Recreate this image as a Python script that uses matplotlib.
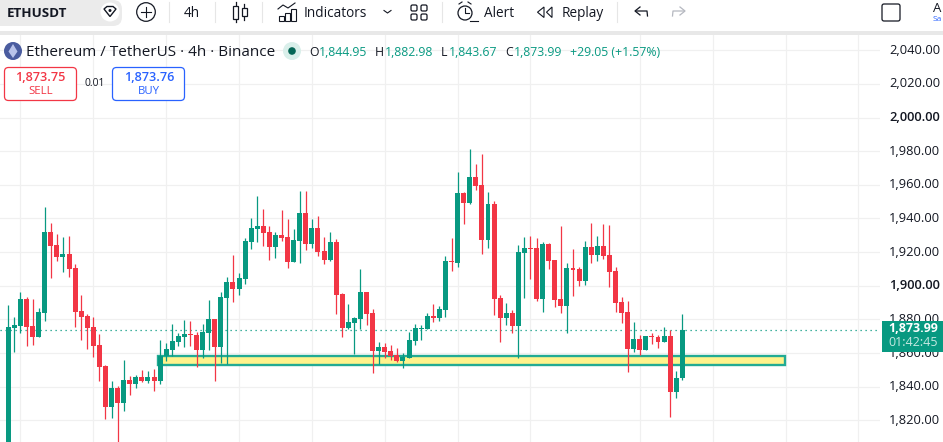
import matplotlib
matplotlib.use("Agg")
import matplotlib.pyplot as plt
from matplotlib.patches import Rectangle, FancyBboxPatch, Circle, Polygon
from matplotlib.transforms import ScaledTranslation

plt.rcParams['font.family'] = ['Open Sans', 'DejaVu Sans']

# candles, oldest first
opens = [1800, 1874.8, 1876.0, 1892.1, 1876.0, 1869.5, 1883.8, 1931.9, 1924.2, 1917.1,
         1918.8, 1910.5, 1885, 1882, 1875.4, 1864.7, 1852.3, 1827.9, 1839.2, 1830.2,
         1843.9, 1841.6, 1845.7, 1843.3, 1845.7, 1843.3, 1858.2, 1861.8, 1866.5, 1869.5,
         1871.3, 1870.7, 1861.8, 1871.9, 1880.2, 1863.5, 1892.7, 1902.2, 1898.1, 1904,
         1926, 1933.8, 1935.5, 1932, 1923.1, 1930.2, 1929, 1914.1, 1926.6, 1943.3,
         1924.8, 1934.4, 1920.7, 1915.3, 1926, 1895.1, 1874.9, 1877.9, 1880.2, 1896.3,
         1883.8, 1861.2, 1863.6, 1861.2, 1858.8, 1855.3, 1857, 1867.2, 1874.3, 1874.3,
         1882, 1880.8, 1885.6, 1914.7, 1913.6, 1955.2, 1949.2, 1964.7, 1959.9, 1927.2,
         1948.6, 1892.8, 1880.9, 1883.8, 1876.1, 1919.5, 1922.5, 1922.5, 1892.2, 1924.9,
         1915.3, 1892.2, 1888, 1910.6, 1910, 1902.9, 1923.1, 1918.3, 1923.7, 1918.3,
         1908.8, 1890.4, 1884.4, 1862.4, 1868.4, 1861.8, 1870.2, 1869.6, 1866.6, 1870.2,
         1836.9, 1844.95]
closes = [1875.4, 1876.6, 1892.1, 1875.4, 1869.5, 1884.4, 1931.9, 1923.6, 1917.1, 1918.8,
          1909.9, 1884.4, 1881.4, 1874.8, 1864.1, 1851.7, 1827.9, 1839.2, 1830.2, 1843.9,
          1841.6, 1845.7, 1843.3, 1845.7, 1843.3, 1858.2, 1862.4, 1867.1, 1870.1, 1871.3,
          1870.7, 1861.8, 1872.5, 1880.2, 1863.5, 1893.3, 1902.2, 1898.1, 1904.6, 1926.6,
          1934.4, 1935.5, 1931.4, 1923.1, 1930.2, 1928.4, 1914.1, 1927.2, 1943.3, 1924.8,
          1934.4, 1920.1, 1915.3, 1926, 1894.5, 1874.9, 1878.5, 1880.8, 1896.3, 1883.2,
          1861.2, 1863.6, 1860.6, 1858.2, 1855.3, 1857.6, 1867.8, 1874.9, 1874.9, 1882,
          1880.8, 1886.2, 1914.7, 1914.2, 1955.2, 1949.2, 1964.7, 1959.3, 1927.2, 1948.6,
          1892.2, 1880.9, 1883.8, 1876.1, 1920.1, 1922.5, 1921.9, 1892.2, 1924.9, 1914.7,
          1891.6, 1888, 1910.6, 1909.4, 1902.9, 1923.1, 1918.3, 1923.7, 1917.7, 1908.2,
          1889.8, 1883.8, 1862.4, 1868.4, 1861.8, 1870.2, 1869.6, 1866.6, 1870.2, 1836.9,
          1845.2, 1873.99]
highs = [1888.5, 1881.4, 1896.2, 1893.3, 1892.1, 1886.7, 1946.8, 1937.3, 1930.7, 1929,
         1929.5, 1912.9, 1894.5, 1883.2, 1881.4, 1871.3, 1852.8, 1843.3, 1840.4, 1855.8,
         1846.3, 1846.9, 1849.9, 1849.3, 1850.5, 1867.7, 1865.9, 1877.2, 1871.9, 1879.6,
         1879, 1872.5, 1877.2, 1891.5, 1880.2, 1896.2, 1905.2, 1918.3, 1907.6, 1928.4,
         1940.3, 1953.4, 1945.7, 1935.5, 1932, 1945.1, 1939.7, 1933.8, 1956.4, 1956.4,
         1939.7, 1941.5, 1929, 1932, 1927.8, 1895.7, 1889.2, 1881.4, 1910, 1896.3,
         1886.2, 1866.6, 1866, 1864.8, 1863, 1860, 1872.5, 1877.3, 1876.7, 1883.8,
         1889.2, 1888, 1917.7, 1928.4, 1967.7, 1955.8, 1981.3, 1972.4, 1978.4, 1955.8,
         1950.4, 1894.5, 1889.8, 1885.6, 1924.3, 1929, 1929.6, 1928.4, 1926, 1925.5,
         1915.3, 1935.6, 1913.6, 1921.9, 1911.2, 1926.6, 1937.3, 1929.6, 1936.8, 1936.2,
         1911.2, 1893.3, 1890.9, 1878.5, 1870.8, 1870.2, 1871.9, 1870.8, 1875.5, 1873.8,
         1849.4, 1882.98]
lows = [1795, 1860.6, 1871.9, 1864.1, 1864.7, 1869.5, 1879.0, 1904.6, 1914.7, 1908.1,
        1905.2, 1875.4, 1867.7, 1862.4, 1857.6, 1843.3, 1820.7, 1821.3, 1805, 1825.5,
        1835, 1839.2, 1842.7, 1842.1, 1837.4, 1841.6, 1855.2, 1858.2, 1864.1, 1863.5,
        1864.1, 1851.7, 1857, 1861.8, 1843.3, 1854, 1853.5, 1890.4, 1894.5, 1901.1,
        1921.9, 1926, 1923.6, 1915.3, 1916.5, 1926.6, 1910.6, 1914.1, 1913.5, 1921.3,
        1922.5, 1917.7, 1913, 1914.7, 1883.2, 1869.5, 1874.3, 1859.4, 1874.1, 1876.7,
        1848.1, 1853.5, 1857.1, 1855.9, 1854.7, 1851.1, 1857, 1864.8, 1867.8, 1874.3,
        1878.5, 1879.1, 1881.4, 1908.8, 1911.2, 1936.8, 1948.6, 1957, 1918.9, 1922.5,
        1882.6, 1866.6, 1876.7, 1871.9, 1857.1, 1892.8, 1904, 1891, 1884.4, 1910,
        1887.4, 1883.8, 1871.9, 1893.9, 1899.9, 1900.5, 1913.6, 1914.7, 1915.9, 1899.3,
        1884.4, 1877.9, 1848.8, 1860.6, 1858.9, 1861.8, 1865.4, 1863, 1866.6, 1822,
        1833.3, 1843.67]

price_ticks = [1820, 1840, 1860, 1880, 1900, 1920, 1940, 1960, 1980, 2000, 2020, 2040]
bold_ticks = [1900, 2000]
time_grid = [2, 14, 26, 38, 50, 62, 74, 86, 104, 116, 128, 140]
zone_low, zone_high = 1852.9, 1858.3
zone_start, zone_end = 24.7, 127.9
last_price = 1873.99

GREEN = '#089981'
RED = '#f23645'
BLUE = '#2962ff'
INK = '#131722'
W, H = 943, 442


def draw_chart(fig):
    ax = fig.add_axes([0, 0, 880 / W, (H - 35) / H])
    ax.set_xlim(-1.367, 143.56)
    ax.set_ylim(1807.1, 2049.1)
    for spine in ax.spines.values():
        spine.set_visible(False)
    ax.set_axisbelow(True)
    ax.set_xticks(time_grid)
    ax.set_yticks(price_ticks)
    ax.set_yticklabels([f"{p:,.2f}" for p in price_ticks], fontsize=9.3, color=INK)
    ax.tick_params(axis='x', length=0, labelbottom=False)
    ax.tick_params(axis='y', length=0, left=False, right=False, labelleft=False,
                   labelright=True, pad=6.5)
    # labels sit a little above their gridlines
    nudge = ScaledTranslation(0, 1.5 / 100, fig.dpi_scale_trans)
    for tick, p in zip(ax.yaxis.get_major_ticks(), price_ticks):
        tick.label2.set_transform(tick.label2.get_transform() + nudge)
        if p in bold_ticks:
            tick.label2.set_fontweight('semibold')
    ax.grid(True, color='#f0f0f0', lw=0.9)

    ax.axhline(last_price, color=GREEN, lw=0.9, ls=(0, (1, 3)), zorder=1.5)
    ax.add_patch(Rectangle((zone_start, zone_low), zone_end - zone_start, zone_high - zone_low,
                           fc='#fff38c', ec='#22ab94', lw=1.7, zorder=2))

    idx = list(range(len(opens)))
    colors = [GREEN if c >= o else RED for o, c in zip(opens, closes)]
    ax.vlines(idx, lows, highs, colors=colors, lw=0.9, zorder=3)
    bottoms = [min(o, c) for o, c in zip(opens, closes)]
    heights = [abs(c - o) for o, c in zip(opens, closes)]
    ax.bar(idx, heights, bottom=bottoms, width=0.82, color=colors, lw=0, zorder=4)
    return ax


def draw_header(ov):
    # top toolbar
    ov.add_patch(FancyBboxPatch((-20, 0), 142, 26, boxstyle="round,pad=0,rounding_size=9",
                                fc='#ebebeb', ec='none'))
    ov.add_patch(Rectangle((0, 31), W, 4, fc='#e8e8e8', ec='none'))
    ov.text(7, 13.3, "ETHUSDT", fontsize=9.6, fontweight='bold', color=INK, va='center')
    ov.add_patch(Circle((110, 12), 9.5, fc='white', ec='none'))
    ov.add_patch(Polygon([(104, 9), (107, 6.5), (113, 6.5), (116, 9), (110, 16.5)],
                         fc='white', ec=INK, lw=1))
    ov.add_patch(Circle((110, 10.5), 1.5, fc=INK, ec='none'))
    ov.add_patch(Circle((146, 12), 9.3, fc='white', ec=INK, lw=0.9))
    ov.plot([141, 151], [12, 12], color=INK, lw=0.8)
    ov.plot([146, 146], [7, 17], color=INK, lw=0.8)
    for x in [169, 215, 262, 442, 617]:
        ov.plot([x, x], [2, 22], color='#e6e6e6', lw=0.8)
    ov.text(192, 13.8, "4h", fontsize=9.8, color=INK, ha='center', va='center')

    # candle icon
    ov.add_patch(Rectangle((233, 6), 5, 13, fc='white', ec=INK, lw=0.9))
    ov.plot([235.5, 235.5], [2, 22], color=INK, lw=0.9, zorder=0.5)
    ov.add_patch(Rectangle((242, 8), 4.5, 8, fc='white', ec=INK, lw=0.9))
    ov.plot([244.2, 244.2], [4, 20], color=INK, lw=0.9, zorder=0.5)

    # indicators icon
    for x, top in zip([279, 285, 291], [16, 13, 9]):
        ov.add_patch(Rectangle((x, top), 4.5, 21 - top, fc='none', ec=INK, lw=0.8))
    ov.plot([278, 283, 288, 295], [9, 5, 8, 3], color=INK, lw=0.8)
    ov.text(304, 13.8, "Indicators", fontsize=9.8, color=INK, va='center')
    ov.plot([384, 387.5, 391], [10.5, 13, 10.5], color=INK, lw=0.8)
    for x in [411, 421]:
        for y in [5, 14]:
            ov.add_patch(FancyBboxPatch((x, y), 6, 6, boxstyle="round,pad=0,rounding_size=1.5",
                                        fc='none', ec=INK, lw=0.9))

    # alert icon
    ov.add_patch(Circle((465, 13), 7, fc='white', ec=INK, lw=0.9))
    ov.plot([465, 465, 469], [8, 13, 13], color=INK, lw=0.8)
    ov.plot([459, 462], [4, 2], color=INK, lw=0.8)
    ov.plot([468, 471], [2, 4], color=INK, lw=0.8)
    ov.plot([470, 478], [21, 21], color=INK, lw=0.8)
    ov.text(484, 13.8, "Alert", fontsize=9.8, color=INK, va='center')

    # replay icon
    ov.add_patch(Polygon([(544, 7), (544, 17.5), (537.5, 12.2)], fc='none', ec=INK, lw=0.8))
    ov.add_patch(Polygon([(552, 7), (552, 17.5), (546.5, 12.2)], fc='none', ec=INK, lw=0.8))
    ov.text(562, 13.8, "Replay", fontsize=9.8, color=INK, va='center')

    # undo, redo
    ov.plot([636, 647, 647.5], [11, 11, 16], color=INK, lw=0.9)
    ov.plot([640, 635, 640], [7, 11, 15], color=INK, lw=0.9)
    ov.plot([684, 673, 672.5], [11, 11, 16], color='#b5b8c0', lw=0.9)
    ov.plot([680, 685, 680], [7, 11, 15], color='#b5b8c0', lw=0.9)

    ov.add_patch(FancyBboxPatch((882, 4), 18, 17, boxstyle="round,pad=0,rounding_size=2",
                                fc='white', ec=INK, lw=0.9))
    ov.text(937, 8, "A", fontsize=9.5, color=INK, ha='center', va='center')
    ov.text(932.5, 19.5, "Sa", fontsize=6, color=BLUE, va='center')

    # symbol line
    ov.add_patch(Circle((13, 51), 9, fc='#4a5c9f', ec='none'))
    ov.add_patch(Polygon([(13, 44), (17.5, 51.5), (13, 58), (8.5, 51.5)], fc='#b9c3ea', ec='none'))
    ov.text(26, 52.5, "Ethereum / TetherUS · 4h · Binance", fontsize=11, color=INK, va='center')
    ov.add_patch(Circle((292, 51), 9, fc='#d9efea', ec='none'))
    ov.add_patch(Circle((292, 51), 3.8, fc='#056656', ec='none'))
    ohlc = [(309, "O", 319, "1,844.95"), (375, "H", 385, "1,882.98"),
            (441, "L", 449, "1,843.67"), (505, "C", 514, "1,873.99")]
    for x_name, name, x_val, val in ohlc:
        ov.text(x_name, 52.6, name, fontsize=8.8, color=INK, va='center')
        ov.text(x_val, 52.6, val, fontsize=8.8, color=GREEN, va='center')
    ov.text(570, 52.6, "+29.05 (+1.57%)", fontsize=8.8, color=GREEN, va='center')

    # buy and sell buttons
    ov.add_patch(FancyBboxPatch((4.5, 67.5), 72, 33, boxstyle="round,pad=0,rounding_size=4",
                                fc='white', ec=RED, lw=0.9))
    ov.text(40.5, 77.5, "1,873.75", fontsize=9.1, color=RED, fontweight='semibold',
            ha='center', va='center')
    ov.text(40.5, 91.5, "SELL", fontsize=8.2, color=RED, ha='center', va='center')
    ov.text(94.5, 84, "0.01", fontsize=7.4, color=INK, ha='center', va='center')
    ov.add_patch(FancyBboxPatch((112.5, 67.5), 72, 33, boxstyle="round,pad=0,rounding_size=4",
                                fc='white', ec=BLUE, lw=0.9))
    ov.text(149, 77.5, "1,873.76", fontsize=9.1, color=BLUE, fontweight='semibold',
            ha='center', va='center')
    ov.text(149, 91.5, "BUY", fontsize=8.2, color=BLUE, ha='center', va='center')

    # last price tag
    ov.add_patch(Rectangle((882, 321), 61, 31, fc=GREEN, ec='none'))
    ov.text(913, 329, f"{last_price:,.2f}", fontsize=9, color='white', fontweight='bold',
            ha='center', va='center')
    ov.text(913, 343, "01:42:45", fontsize=9, color='#c5e8e1', ha='center', va='center')


def main():
    fig = plt.figure(figsize=(W / 100, H / 100), dpi=100, facecolor='white')
    draw_chart(fig)
    ov = fig.add_axes([0, 0, 1, 1], facecolor='none')
    ov.set_xlim(0, W)
    ov.set_ylim(H, 0)
    ov.axis('off')
    draw_header(ov)
    fig.savefig("out.png", dpi=100)


if __name__ == "__main__":
    main()
